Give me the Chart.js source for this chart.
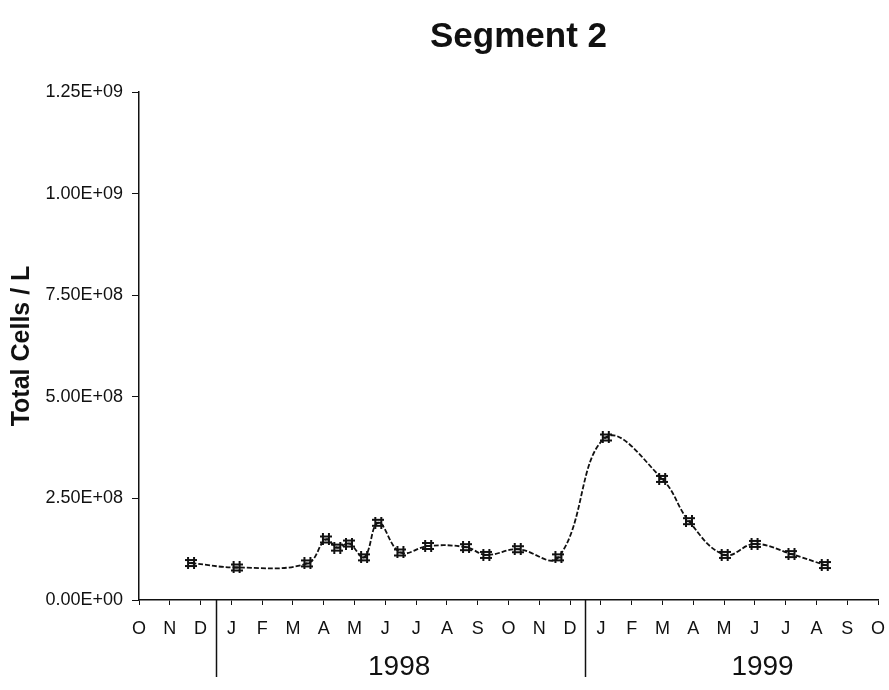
<!DOCTYPE html>
<html>
<head>
<meta charset="utf-8">
<title>Segment 2</title>
<script src="https://cdn.jsdelivr.net/npm/chart.js@4"></script>
<style>
  html, body { margin: 0; padding: 0; background: #fff; }
  #wrap { width: 889px; height: 690px; }
</style>
</head>
<body>
<div id="wrap"><canvas id="chart"></canvas></div>
<script>
// Month axis: index 0 = Oct 1997 ... index 24 = Oct 1999 (one tick per month).
const monthLabels = ['O', 'N', 'D', 'J', 'F', 'M', 'A', 'M', 'J', 'J', 'A', 'S',
  'O', 'N', 'D', 'J', 'F', 'M', 'A', 'M', 'J', 'J', 'A', 'S', 'O'];

// Sampling dates as fractional month index on that axis.
const sampleMonths = [1.69, 3.17, 5.47, 6.07, 6.44, 6.82, 7.31, 7.77, 8.49, 9.39,
  10.62, 11.28, 12.30, 13.62, 15.16, 16.99, 17.86, 19.02, 19.99, 21.19, 22.27];

// Total cells per litre at each sample.
const totalCells = [9.1e7, 8.0e7, 9.0e7, 1.49e8, 1.29e8, 1.39e8, 1.05e8, 1.90e8, 1.17e8,
  1.33e8, 1.30e8, 1.11e8, 1.25e8, 1.05e8, 4.00e8, 2.98e8, 1.94e8, 1.11e8, 1.38e8,
  1.13e8, 8.6e7];

const yTicks = [0, 2.5e8, 5e8, 7.5e8, 1e9, 1.25e9];

// Year groups under the month letters.
const yearNames = ['1998', '1999'];
const yearCenters = [8.45, 20.25];
const yearBreaks = [2.5, 14.5];

const TITLE = 'Segment 2';
const FONT = '"Liberation Sans", Arial, sans-serif';
const INK = '#111';

// "1.25E+09" style
function sci(v) {
  if (v === 0) return '0.00E+00';
  const exp = Math.floor(Math.log10(v));
  const man = v / Math.pow(10, exp);
  return man.toFixed(2) + 'E+' + String(exp).padStart(2, '0');
}

// hash-shaped plot symbol like the original
function hashMarker() {
  const c = document.createElement('canvas');
  c.width = 12; c.height = 12;
  const g = c.getContext('2d');
  g.strokeStyle = INK;
  g.lineWidth = 2;
  g.beginPath();
  g.moveTo(0, 3); g.lineTo(12, 3);
  g.moveTo(0, 9); g.lineTo(12, 9);
  g.moveTo(3, 0); g.lineTo(3, 12);
  g.moveTo(9, 0); g.lineTo(9, 12);
  g.moveTo(3, 6); g.lineTo(9, 6);
  g.stroke();
  return c;
}

const decorations = {
  id: 'decorations',
  afterDraw(chart) {
    const ctx = chart.ctx;
    const x = chart.scales.x;
    const area = chart.chartArea;
    ctx.save();
    // title, centred a little right of the plot centre like the original
    ctx.fillStyle = INK;
    ctx.font = 'bold 35px ' + FONT;
    ctx.textAlign = 'center';
    ctx.textBaseline = 'middle';
    ctx.fillText(TITLE, (area.left + area.right) / 2 + 10, 37);

    // year separators + year names
    ctx.strokeStyle = INK;
    ctx.lineWidth = 1.5;
    yearBreaks.forEach((v) => {
      const px = Math.round(x.getPixelForValue(v)) + 0.5;
      ctx.beginPath();
      ctx.moveTo(px, area.bottom);
      ctx.lineTo(px, area.bottom + 77);
      ctx.stroke();
    });
    ctx.font = '28px ' + FONT;
    yearNames.forEach((name, i) => {
      ctx.fillText(name, x.getPixelForValue(yearCenters[i]), area.bottom + 67);
    });
    ctx.restore();
  }
};

new Chart(document.getElementById('chart'), {
  type: 'line',
  data: {
    datasets: [{
      data: sampleMonths.map((m, i) => ({ x: m, y: totalCells[i] })),
      borderColor: INK,
      borderWidth: 1.8,
      borderDash: [5, 2],
      tension: 0.4,
      pointStyle: hashMarker(),
      pointRadius: 6,
      fill: false
    }]
  },
  options: {
    responsive: true,
    maintainAspectRatio: false,
    animation: false,
    layout: { padding: { left: 0, right: 11, top: 92, bottom: 0 } },
    plugins: {
      legend: { display: false },
      tooltip: { enabled: false },
      title: { display: false }
    },
    scales: {
      x: {
        type: 'linear',
        min: 0,
        max: 24,
        afterBuildTicks: (s) => { s.ticks = monthLabels.map((_, i) => ({ value: i })); },
        afterFit: (s) => { s.height = 90; s.paddingLeft = 0; s.paddingRight = 0; },
        ticks: {
          autoSkip: false,
          maxRotation: 0,
          color: INK,
          padding: 13,
          font: { family: FONT, size: 18 },
          callback: (v) => monthLabels[v]
        },
        grid: { drawOnChartArea: false, tickLength: 5, color: INK },
        border: { color: INK, width: 1.5 }
      },
      y: {
        min: 0,
        max: 1.25e9,
        afterBuildTicks: (s) => { s.ticks = yTicks.map((v) => ({ value: v })); },
        afterFit: (s) => { s.width = 139; },
        ticks: {
          color: INK,
          padding: 9,
          font: { family: FONT, size: 18 },
          callback: (v) => sci(v)
        },
        grid: { drawOnChartArea: false, tickLength: 7, color: INK },
        border: { color: INK, width: 1.5 },
        title: {
          display: true,
          text: 'Total Cells / L',
          color: INK,
          font: { family: FONT, size: 25, weight: 'bold' },
          padding: { top: 7, bottom: 0 }
        }
      }
    }
  },
  plugins: [decorations]
});
</script>
</body>
</html>
